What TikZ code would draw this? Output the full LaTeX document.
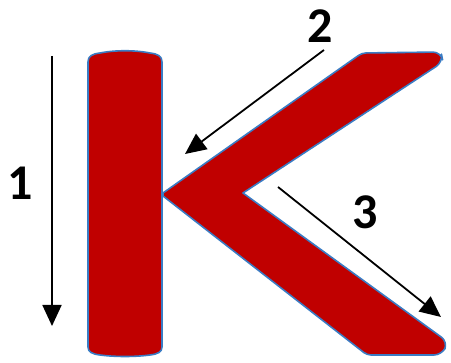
\documentclass[tikz,border=0pt]{standalone}
\usepackage{fontspec}
\setmainfont{Carlito}
\usetikzlibrary{arrows.meta}
\definecolor{kred}{HTML}{C00000}
\definecolor{kblue}{HTML}{3A7CC4}
\tikzset{
  letter/.style={fill=kred, draw=kblue, line width=1.6pt, line join=round},
  dirarrow/.style={draw=black, line width=1.8pt, -{Triangle[length=21pt,width=19pt]}},
  numlabel/.style={font=\fontsize{50}{50}\selectfont\bfseries, inner sep=0pt}
}
\begin{document}
\begin{tikzpicture}[x=1pt,y=-1pt]
\useasboundingbox (0,0) rectangle (451,363);
% vertical bar
\path[letter] (88,62) .. controls (88,56) and (92,54) .. (100,53)
  .. controls (115,50) and (135,50) .. (150,53)
  .. controls (158,54) and (162,56) .. (162,62)
  -- (162,347) .. controls (162,352) and (158,354) .. (150,355)
  .. controls (135,357) and (115,357) .. (100,355)
  .. controls (92,354) and (88,352) .. (88,347) -- cycle;
% chevron
\path[letter] (163,193)
  [rounded corners=4pt] -- (362,53)
  [rounded corners=8pt] -- (441,52) -- (443,62)
  [rounded corners=0pt] -- (243,193)
  [rounded corners=8pt] -- (448,342) -- (442,355)
  [rounded corners=4pt] -- (367,355)
  [rounded corners=0pt] -- (163,196) -- cycle;
% arrow endpoints
\coordinate (a1s) at (52,56);
\coordinate (a1e) at (52,326);
\coordinate (a2s) at (324,50);
\coordinate (a2e) at (185,154);
\coordinate (a3s) at (278,187);
\coordinate (a3e) at (441,317);
\draw[dirarrow] (a1s) -- (a1e);
\draw[dirarrow] (a2s) -- (a2e);
\draw[dirarrow] (a3s) -- (a3e);
\node[numlabel] (l1) at (20,183) {1};
\node[numlabel] (l2) at (320,26) {2};
\node[numlabel] (l3) at (365,212) {3};
\end{tikzpicture}
\end{document}
